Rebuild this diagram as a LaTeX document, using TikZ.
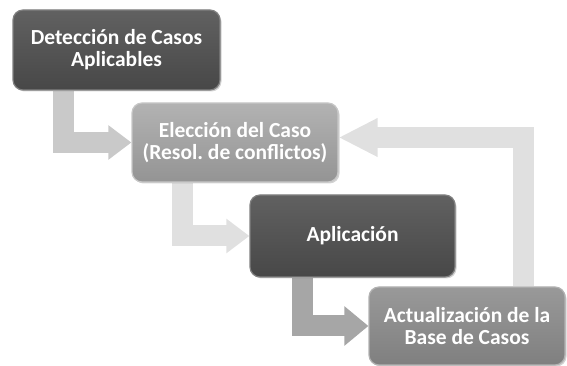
\documentclass[tikz,border=0pt]{standalone}
\usepackage{fontspec}
\setmainfont{Carlito}
\frenchspacing
\usetikzlibrary{arrows.meta,shadows,backgrounds}
\tikzset{
  box/.style={rectangle, rounded corners=10pt, align=center, text=white,
    font=\fontsize{21.5}{22}\selectfont\bfseries, inner sep=2pt,
    drop shadow={opacity=0.35, shadow xshift=1.5pt, shadow yshift=-1.5pt}},
  darkbox/.style={box, top color=black!62, bottom color=black!72, draw=black!50, line width=1.2pt},
  midbox/.style={box, top color=black!30, bottom color=black!42, draw=black!22, line width=1.2pt},
  lowbox/.style={box, top color=black!40, bottom color=black!50, draw=black!30, line width=1.2pt},
  blockarrow/.style={line width=21pt, line join=miter, line cap=butt},
}
\begin{document}
\begin{tikzpicture}[x=1pt,y=1pt]
\useasboundingbox (0,0) rectangle (567,366);
\node[darkbox, minimum width=207pt, minimum height=80pt] (b1) at (116.5,316) {Detección de Casos\\Aplicables};
\node[midbox, minimum width=206pt, minimum height=79pt] (b2) at (235,223.5) {Elección del Caso\\(Resol. de conflictos)};
\node[darkbox, minimum width=205pt, minimum height=82pt] (b3) at (352.5,130) {Aplicación};
\node[lowbox, minimum width=196pt, minimum height=78pt] (b4) at (467,40) {Actualización de la\\Base de Casos};
\coordinate (x1) at (63,0);
\coordinate (x2) at (182,0);
\coordinate (x3) at (302,0);
\coordinate (x4) at (523,0);
\begin{scope}[on background layer]
\draw[blockarrow, draw=black!21, -{Triangle[length=23pt,width=33pt]}] (b1.south -| x1) |- (b2.west);
\draw[blockarrow, draw=black!12, -{Triangle[length=23pt,width=33pt]}] (b2.south -| x2) |- (b3.west);
\draw[blockarrow, draw=black!35, -{Triangle[length=24pt,width=38pt]}] (b3.south -| x3) |- (b4.west);
\draw[blockarrow, draw=black!12, -{Triangle[length=39pt,width=36pt]}] (b4.north -| x4) |- ([yshift=5pt]b2.east);
\end{scope}
\end{tikzpicture}
\end{document}
